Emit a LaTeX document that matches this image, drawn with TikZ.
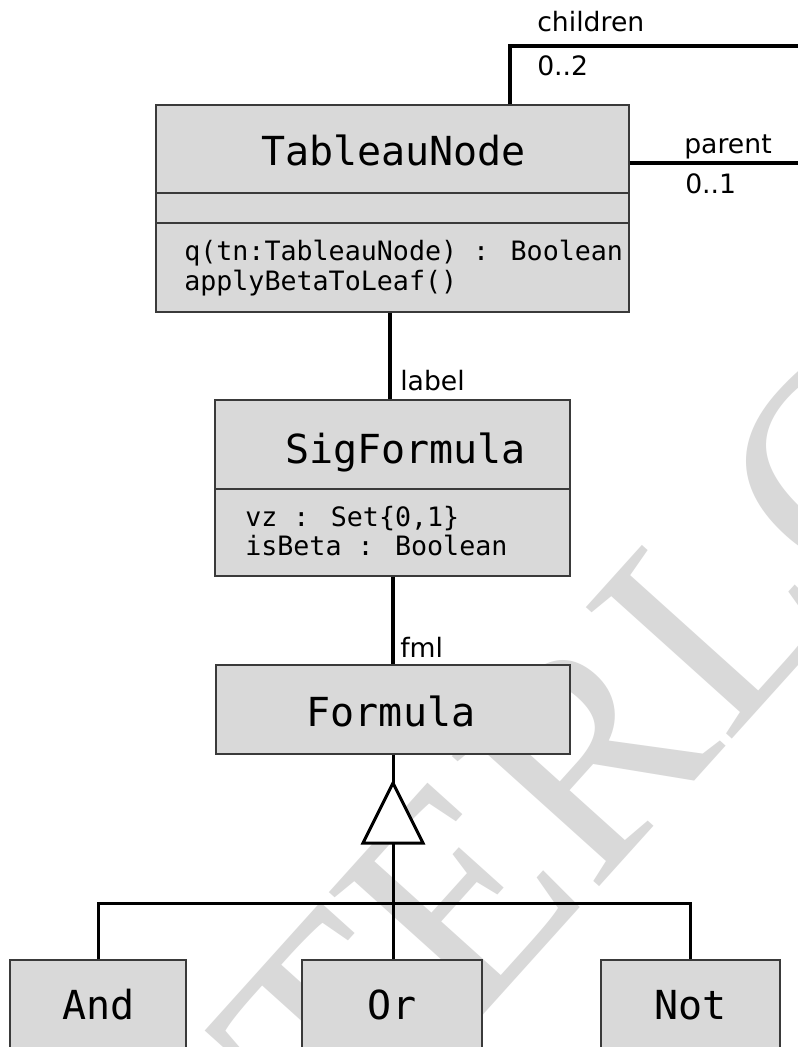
\documentclass[tikz,border=0pt]{standalone}
\usepackage{fontspec}
\newfontfamily\monof{DejaVu Sans Mono}
\newfontfamily\labf{DejaVu Sans}
\newfontfamily\wmf{Liberation Serif}
\usetikzlibrary{fit}
\definecolor{boxfill}{RGB}{217,217,217}
\definecolor{boxline}{RGB}{58,58,58}
\definecolor{wmgray}{RGB}{217,217,217}
\tikzset{
  classbox/.style={draw=boxline, line width=1.1pt, fill=boxfill, inner sep=0pt},
  divider/.style={draw=boxline, line width=1.1pt},
  assoc/.style={line width=3pt},
  genline/.style={line width=2.25pt},
  ctitle/.style={font=\monof\fontsize{30}{30}\selectfont, inner sep=0pt, anchor=base},
  cbody/.style={font=\monof\fontsize{20}{20}\selectfont, inner sep=0pt, anchor=base west},
  rolelab/.style={font=\labf\fontsize{20}{20}\selectfont, inner sep=0pt, anchor=base west},
  wmark/.style={font=\wmf\fontsize{225}{225}\selectfont, text=wmgray, inner sep=0pt, anchor=base west, rotate=48},
}
\begin{document}
\begin{tikzpicture}[x=0.75pt,y=-0.75pt]
\clip (0,0) rectangle (798,1047);
\fill[white] (0,0) rectangle (798,1047);
% watermark
\node[wmark] (wm) at (347,1167) {TERLC};

% TableauNode
\node[classbox, fit={(156,105) (629,312)}] (tn) {};
\draw[divider] (156,193) -- (629,193);
\draw[divider] (156,223) -- (629,223);
\node[ctitle] (tnt) at (393.5,165) {TableauNode};
\node[cbody] (tnm1) at (184,260) {q(tn:TableauNode) : Boolean};
\node[cbody] (tnm2) at (184,290) {applyBetaToLeaf()};

% SigFormula
\node[classbox, fit={(215,400) (570,576)}] (sig) {};
\draw[divider] (215,489) -- (570,489);
\node[ctitle] (sigt) at (405.5,463) {SigFormula};
\node[cbody] (siga1) at (245,526.7) {vz : Set\{0,1\}};
\node[cbody] (siga2) at (245,555) {isBeta : Boolean};

% Formula
\node[classbox, fit={(216,665) (570,754)}] (form) {};
\node[ctitle] (formt) at (391,726) {Formula};

% subclasses
\node[classbox, fit={(10,960) (186,1070)}] (and) {};
\node[ctitle] (andt) at (98.5,1019) {And};
\node[classbox, fit={(302,960) (482,1070)}] (or) {};
\node[ctitle] (ort) at (392,1019) {Or};
\node[classbox, fit={(601,960) (780,1070)}] (not) {};
\node[ctitle] (nott) at (690.5,1019) {Not};

% associations
\coordinate (chcorner) at (509.5,46);
\coordinate (chend) at (800,46);
\draw[assoc] (tn.north -| chcorner) -- (chcorner) -- (chend);
\coordinate (paend) at (800,163.3);
\draw[assoc] (tn.east |- paend) -- (paend);
\coordinate (l1x) at (390,0);
\draw[assoc] (tn.south -| l1x) -- (sig.north -| l1x);
\coordinate (l2x) at (393,0);
\draw[assoc] (sig.south -| l2x) -- (form.north -| l2x);

% generalization
\coordinate (apex) at (393,783);
\coordinate (bl) at (363,843);
\coordinate (br) at (423,843);
\coordinate (tbase) at (393,843);
\coordinate (junc) at (393,903);
\draw[genline] (form.south -| apex) -- (apex);
\draw[genline, fill=white, line join=miter] (apex) -- (bl) -- (br) -- cycle;
\draw[genline] (tbase) -- (or.north -| tbase);
\draw[genline] (and.north) |- (junc) -| (not.north);

% role labels
\node[rolelab] (lch) at (537,31.7) {children};
\node[rolelab] (lch2) at (537,75) {0..2};
\node[rolelab] (lpa) at (684,153) {parent};
\node[rolelab] (lpa2) at (685,193) {0..1};
\node[rolelab] (llab) at (400,390.7) {label};
\node[rolelab] (lfml) at (400,657) {fml};
\end{tikzpicture}
\end{document}
